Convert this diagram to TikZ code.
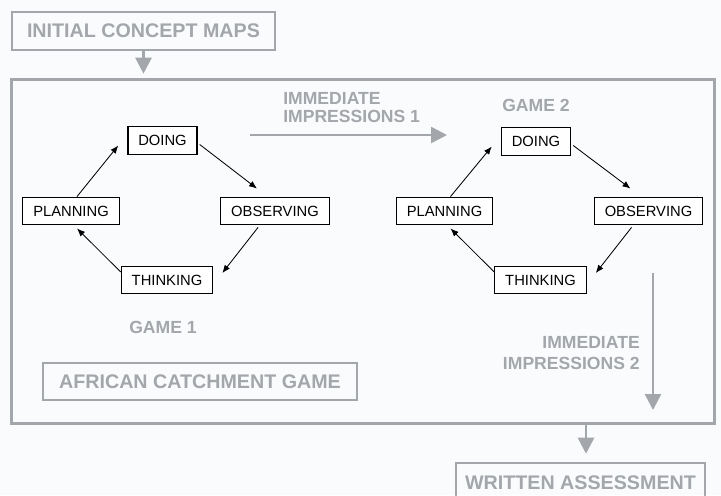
\documentclass[tikz,border=0pt]{standalone}
\usepackage{fontspec}
\setmainfont{Liberation Sans}
\usetikzlibrary{arrows.meta,positioning}
\definecolor{boxgray}{RGB}{163,166,170}
\definecolor{paper}{RGB}{250,251,253}

\begin{document}
\begin{tikzpicture}[x=0.025cm, y=-0.025cm]

	\tikzstyle{stage}=[rectangle, draw=black, line width=0.9pt, fill=white, text=black, font=\fontsize{10.5}{12}\selectfont, inner xsep=7.4pt, minimum height=0.69cm]
	\tikzstyle{outer}=[rectangle, draw=boxgray, line width=1.8pt, text=boxgray, font=\bfseries\fontsize{14}{16}\selectfont, inner sep=0pt]
	\tikzstyle{gtext}=[text=boxgray, font=\bfseries\fontsize{12.5}{12.5}\selectfont, inner sep=0pt]
	\tikzstyle{cycle}=[-{Latex[length=2mm,width=1.6mm]}, line width=0.6pt, black]
	\tikzstyle{flow}=[-{Triangle[length=4mm,width=4mm]}, line width=1.8pt, boxgray]

	\clip (0,0) rectangle (721,495);
	\fill[paper] (0,0) rectangle (721,495);

	\node[outer, line width=2.1pt, fill=paper, minimum width=17.55cm, minimum height=8.575cm] (game) at (363,251.5) {};
	\node[outer, minimum width=6.575cm, minimum height=0.95cm] (init) at (143.5,31) {INITIAL CONCEPT MAPS};
	\node[outer, minimum width=6.225cm, minimum height=1cm] (w) at (580.5,483) {WRITTEN ASSESSMENT};
	\node[outer, line width=1.4pt, minimum width=7.85cm, minimum height=0.925cm] (acg) at (200,381.5) {AFRICAN CATCHMENT GAME};

	% game 1
	\node[stage] (d1) at (162.5,140.5) {DOING};
	\node[stage] (p1) at (71,211)      {PLANNING};
	\node[stage] (o1) at (275,211)     {OBSERVING};
	\node[stage] (t1) at (167,280)     {THINKING};
	\node[gtext] (g1) at (163,327)     {GAME 1};

	% game 2
	\node[stage] (d2) at (536,141.5)   {DOING};
	\node[stage] (p2) at (444.5,211)   {PLANNING};
	\node[stage] (o2) at (648.5,211)   {OBSERVING};
	\node[stage] (t2) at (540.5,280)   {THINKING};
	\node[gtext] (g2) at (536,105)     {GAME 2};

	\draw[cycle] ([shift={(6,0)}]p1.north) -- ([shift={(-9,5)}]d1.west);
	\draw[cycle] ([shift={(2,4)}]d1.east) -- ([shift={(-18,-8)}]o1.north);
	\draw[cycle] ([shift={(-17,2)}]o1.south) -- ([shift={(9,-7)}]t1.east);
	\draw[cycle] ([shift={(0,-8)}]t1.west) -- ([shift={(6,3)}]p1.south);

	\draw[cycle] ([shift={(6,0)}]p2.north) -- ([shift={(-9,5)}]d2.west);
	\draw[cycle] ([shift={(2,4)}]d2.east) -- ([shift={(-18,-8)}]o2.north);
	\draw[cycle] ([shift={(-17,2)}]o2.south) -- ([shift={(9,-7)}]t2.east);
	\draw[cycle] ([shift={(0,-8)}]t2.west) -- ([shift={(6,3)}]p2.south);

	% impressions
	\node[gtext, align=left, anchor=west] (imp1) at (283,107.5) {IMMEDIATE\\IMPRESSIONS 1};
	\coordinate (i1s) at (250,135);
	\coordinate (i1e) at (447,135);
	\draw[flow] (i1s) -- (i1e);

	\node[gtext, align=right, anchor=east, font=\bfseries\fontsize{12.5}{14.5}\selectfont] (imp2) at (640,353) {IMMEDIATE\\IMPRESSIONS 2};
	\coordinate (i2s) at (653,273);
	\coordinate (i2e) at (653,410);
	\draw[flow] (i2s) -- (i2e);

	\draw[flow, shorten >=0.12cm] (init.south) -- (init.south |- game.north);
	\coordinate (gs) at (586,423);
	\draw[flow, shorten >=0.2cm] (gs) -- (gs |- w.north);

\end{tikzpicture}
\end{document}
